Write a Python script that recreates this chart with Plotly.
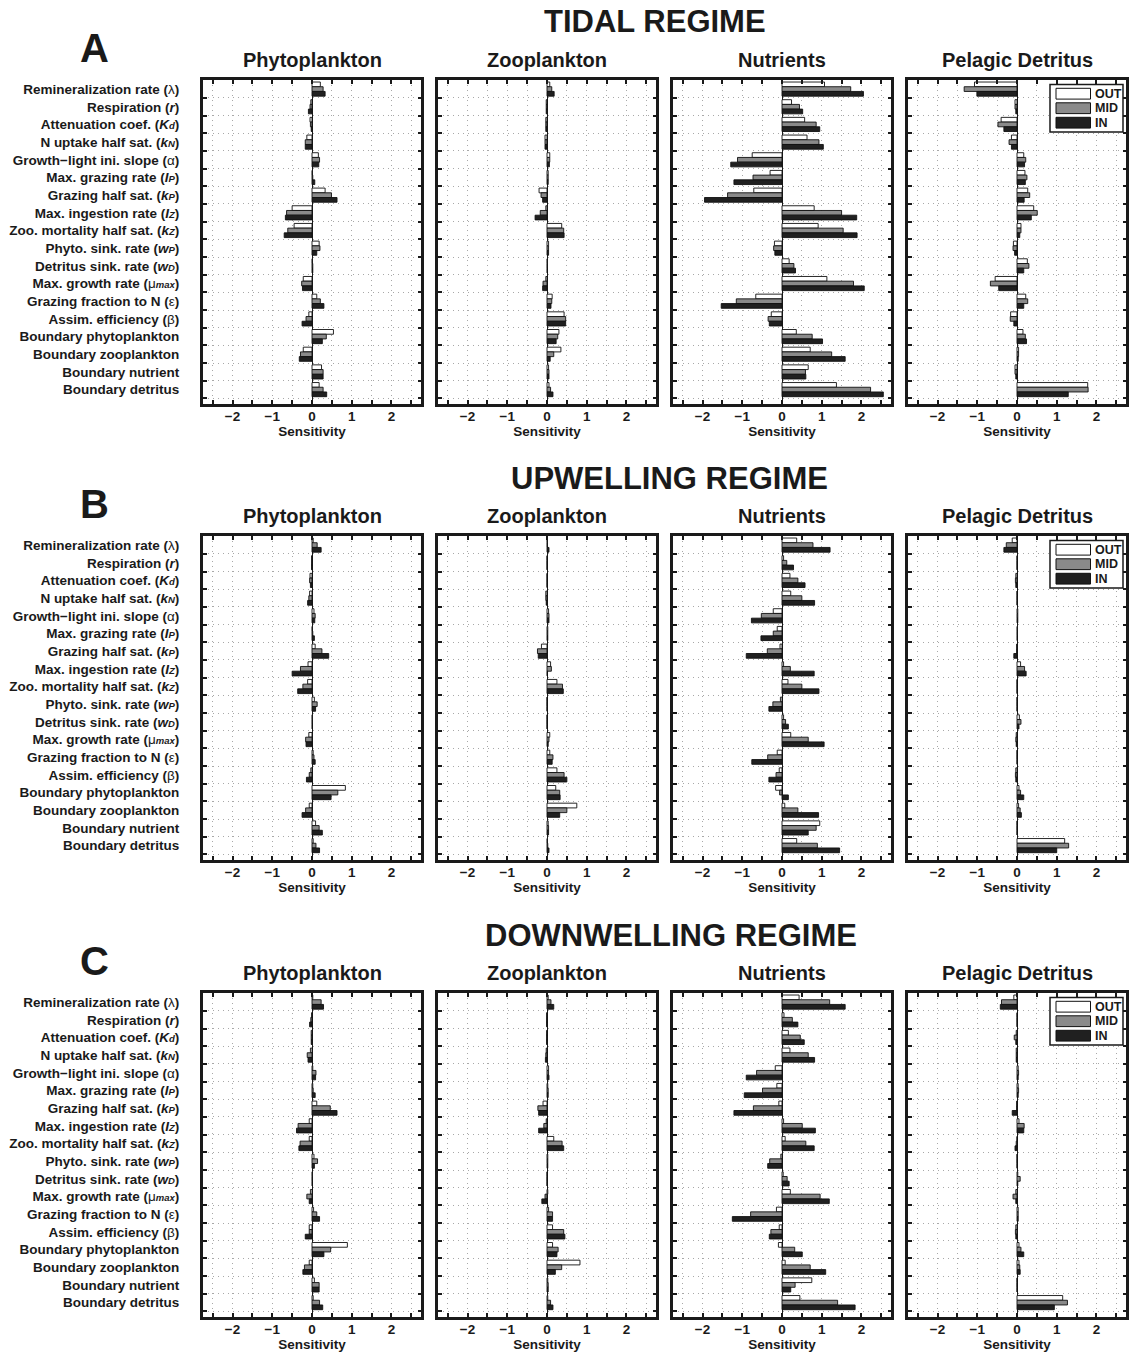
import plotly.graph_objects as go

W, H = 1135, 1353

# ---------------- data ----------------
SUB = "<span style='font-size:9.5px'>{}</span>"
GREEK = "<span style='font-weight:normal'>{}</span>"
PARAMS = [
    "Remineralization rate (" + GREEK.format("λ") + ")",
    "Respiration (<i>r</i>)",
    "Attenuation coef. (<i>K" + SUB.format("d") + "</i>)",
    "N uptake half sat. (<i>k" + SUB.format("N") + "</i>)",
    "Growth−light ini. slope (" + GREEK.format("α") + ")",
    "Max. grazing rate (<i>I" + SUB.format("P") + "</i>)",
    "Grazing half sat. (<i>k" + SUB.format("P") + "</i>)",
    "Max. ingestion rate (<i>I" + SUB.format("Z") + "</i>)",
    "Zoo. mortality half sat. (<i>k" + SUB.format("Z") + "</i>)",
    "Phyto. sink. rate (<i>w" + SUB.format("P") + "</i>)",
    "Detritus sink. rate (<i>w" + SUB.format("D") + "</i>)",
    "Max. growth rate (" + GREEK.format("μ") + "<i>" + SUB.format("max") + "</i>)",
    "Grazing fraction to N (" + GREEK.format("ε") + ")",
    "Assim. efficiency (" + GREEK.format("β") + ")",
    "Boundary phytoplankton",
    "Boundary zooplankton",
    "Boundary nutrient",
    "Boundary detritus",
]
SERIES = ["OUT", "MID", "IN"]
COMPARTMENTS = ["Phytoplankton", "Zooplankton", "Nutrients", "Pelagic Detritus"]
REGIMES = ["TIDAL REGIME", "UPWELLING REGIME", "DOWNWELLING REGIME"]
LETTERS = ["A", "B", "C"]
X_TICKS = [-2, -1, 0, 1, 2]

# Tidal
TIDAL_PHYTO_OUT = [0.21, -0.03, -0.05, -0.13, 0.16, 0.01, 0.33, -0.50, -0.45, 0.18, 0.01, -0.22, 0.12, -0.08, 0.54, -0.22, 0.24, 0.18]
TIDAL_PHYTO_MID = [0.28, -0.05, -0.04, -0.17, 0.19, 0.02, 0.49, -0.64, -0.61, 0.20, 0.02, -0.26, 0.21, -0.15, 0.36, -0.29, 0.28, 0.28]
TIDAL_PHYTO_IN = [0.33, -0.09, -0.02, -0.17, 0.17, 0.07, 0.63, -0.67, -0.70, 0.12, 0.02, -0.24, 0.30, -0.25, 0.26, -0.32, 0.28, 0.37]

TIDAL_ZOO_OUT = [0.07, -0.02, -0.03, -0.05, 0.07, 0.03, -0.20, -0.03, 0.37, 0.04, 0.01, -0.03, 0.13, 0.43, 0.30, 0.35, 0.04, 0.05]
TIDAL_ZOO_MID = [0.12, -0.02, -0.03, -0.05, 0.07, 0.03, -0.15, -0.17, 0.42, 0.04, 0.01, -0.10, 0.12, 0.47, 0.27, 0.17, 0.05, 0.09]
TIDAL_ZOO_IN = [0.18, -0.02, -0.03, -0.05, 0.06, 0.03, -0.11, -0.30, 0.43, 0.04, 0.01, -0.11, 0.10, 0.47, 0.23, 0.08, 0.05, 0.15]

TIDAL_NUTR_OUT = [1.07, 0.24, 0.57, 0.63, -0.75, -0.30, -0.71, 0.81, 0.91, -0.19, 0.18, 1.13, -0.66, -0.27, 0.36, 0.71, 0.66, 1.37]
TIDAL_NUTR_MID = [1.73, 0.44, 0.86, 0.93, -1.12, -0.73, -1.37, 1.50, 1.54, -0.21, 0.30, 1.80, -1.15, -0.35, 0.76, 1.25, 0.59, 2.23]
TIDAL_NUTR_IN = [2.05, 0.52, 0.95, 1.04, -1.29, -1.21, -1.95, 1.88, 1.89, -0.18, 0.34, 2.07, -1.53, -0.32, 1.02, 1.59, 0.60, 2.55]

TIDAL_DET_OUT = [-1.07, -0.05, -0.40, -0.14, 0.17, 0.20, 0.27, 0.42, 0.10, -0.09, 0.26, -0.55, 0.22, -0.16, 0.15, 0.04, -0.05, 1.78]
TIDAL_DET_MID = [-1.33, -0.05, -0.48, -0.20, 0.22, 0.25, 0.32, 0.51, 0.10, -0.10, 0.30, -0.67, 0.27, -0.17, 0.21, 0.04, -0.05, 1.79]
TIDAL_DET_IN = [-1.01, -0.03, -0.33, -0.14, 0.19, 0.21, 0.18, 0.36, 0.07, -0.06, 0.17, -0.46, 0.17, -0.08, 0.24, 0.03, -0.03, 1.29]

# Upwelling
UP_PHYTO_OUT = [0.03, -0.01, -0.05, -0.06, 0.05, 0.01, 0.08, -0.10, -0.11, 0.06, 0.01, -0.08, 0.03, -0.03, 0.84, -0.07, 0.09, 0.03]
UP_PHYTO_MID = [0.13, -0.01, -0.06, -0.08, 0.08, 0.02, 0.25, -0.29, -0.23, 0.13, 0.01, -0.16, 0.05, -0.07, 0.65, -0.16, 0.18, 0.10]
UP_PHYTO_IN = [0.23, -0.01, -0.04, -0.11, 0.07, 0.06, 0.42, -0.50, -0.36, 0.09, 0.01, -0.15, 0.08, -0.14, 0.48, -0.25, 0.26, 0.19]

UP_ZOO_OUT = [0.01, 0.00, 0.00, -0.03, 0.04, 0.02, -0.14, 0.09, 0.25, 0.00, 0.00, 0.07, 0.07, 0.25, 0.22, 0.75, 0.03, 0.01]
UP_ZOO_MID = [0.01, 0.00, 0.00, -0.03, 0.05, 0.02, -0.24, 0.11, 0.39, 0.00, 0.00, 0.05, 0.15, 0.43, 0.32, 0.50, 0.04, 0.02]
UP_ZOO_IN = [0.05, 0.00, 0.00, -0.02, 0.05, 0.02, -0.22, 0.01, 0.41, 0.00, 0.00, 0.03, 0.13, 0.50, 0.33, 0.32, 0.04, 0.05]

UP_NUTR_OUT = [0.37, 0.04, 0.20, 0.22, -0.22, -0.12, -0.05, 0.04, 0.15, -0.04, 0.04, 0.22, -0.12, -0.07, -0.16, 0.07, 0.95, 0.37]
UP_NUTR_MID = [0.78, 0.12, 0.40, 0.50, -0.52, -0.22, -0.37, 0.21, 0.50, -0.23, 0.09, 0.66, -0.36, -0.15, -0.06, 0.40, 0.86, 0.89]
UP_NUTR_IN = [1.21, 0.29, 0.58, 0.82, -0.77, -0.53, -0.90, 0.81, 0.93, -0.33, 0.16, 1.06, -0.76, -0.33, 0.16, 0.92, 0.66, 1.45]

UP_DET_OUT = [-0.12, 0.00, -0.03, 0.00, 0.02, 0.01, -0.01, 0.09, 0.00, 0.00, 0.06, -0.02, 0.00, -0.03, 0.05, 0.04, 0.00, 1.20]
UP_DET_MID = [-0.27, 0.00, -0.04, 0.00, 0.02, 0.01, -0.01, 0.19, 0.00, 0.00, 0.10, -0.03, 0.00, -0.04, 0.09, 0.08, 0.00, 1.30]
UP_DET_IN = [-0.33, 0.00, -0.03, 0.00, 0.02, 0.01, -0.08, 0.23, 0.00, 0.00, 0.05, -0.02, 0.00, -0.03, 0.17, 0.11, 0.00, 1.00]

# Downwelling
DOWN_PHYTO_OUT = [0.02, -0.01, -0.02, -0.04, 0.02, 0.02, 0.12, -0.07, -0.07, 0.05, 0.01, -0.04, 0.04, -0.07, 0.89, -0.07, 0.06, 0.03]
DOWN_PHYTO_MID = [0.23, -0.03, -0.02, -0.12, 0.10, 0.03, 0.46, -0.35, -0.30, 0.14, 0.01, -0.13, 0.12, -0.07, 0.47, -0.19, 0.18, 0.19]
DOWN_PHYTO_IN = [0.29, -0.06, -0.02, -0.10, 0.09, 0.08, 0.63, -0.39, -0.33, 0.06, 0.01, -0.07, 0.19, -0.17, 0.30, -0.23, 0.18, 0.27]

DOWN_ZOO_OUT = [0.03, -0.01, -0.01, -0.02, 0.04, 0.02, -0.10, -0.02, 0.17, 0.02, 0.00, 0.02, 0.04, 0.14, 0.14, 0.83, 0.02, 0.02]
DOWN_ZOO_MID = [0.10, -0.01, -0.01, -0.03, 0.04, 0.03, -0.23, -0.08, 0.38, 0.02, 0.00, -0.05, 0.14, 0.42, 0.28, 0.37, 0.03, 0.09]
DOWN_ZOO_IN = [0.17, -0.01, -0.01, -0.04, 0.05, 0.03, -0.21, -0.21, 0.42, 0.02, 0.00, -0.13, 0.14, 0.45, 0.25, 0.21, 0.03, 0.15]

DOWN_NUTR_OUT = [0.43, 0.05, 0.16, 0.20, -0.17, -0.13, -0.08, 0.04, 0.08, -0.03, 0.03, 0.21, -0.14, -0.07, -0.09, 0.08, 0.75, 0.45]
DOWN_NUTR_MID = [1.20, 0.26, 0.46, 0.66, -0.64, -0.49, -0.72, 0.51, 0.60, -0.31, 0.13, 0.96, -0.79, -0.28, 0.32, 0.71, 0.33, 1.40]
DOWN_NUTR_IN = [1.59, 0.40, 0.56, 0.82, -0.90, -0.95, -1.21, 0.84, 0.81, -0.36, 0.18, 1.19, -1.25, -0.32, 0.51, 1.10, 0.22, 1.84]

DOWN_DET_OUT = [-0.08, 0.00, -0.02, -0.02, 0.03, 0.03, -0.01, 0.05, 0.00, 0.00, 0.02, -0.03, 0.03, -0.03, 0.05, 0.05, 0.00, 1.15]
DOWN_DET_MID = [-0.39, 0.00, -0.07, -0.02, 0.04, 0.04, -0.01, 0.18, -0.02, 0.00, 0.08, -0.10, 0.03, -0.04, 0.10, 0.07, 0.00, 1.27]
DOWN_DET_IN = [-0.42, 0.00, -0.03, -0.02, 0.03, 0.03, -0.12, 0.17, -0.05, 0.00, 0.02, -0.03, 0.03, -0.03, 0.17, 0.08, 0.00, 0.94]

PANELS = [
    [(TIDAL_PHYTO_OUT, TIDAL_PHYTO_MID, TIDAL_PHYTO_IN),
     (TIDAL_ZOO_OUT, TIDAL_ZOO_MID, TIDAL_ZOO_IN),
     (TIDAL_NUTR_OUT, TIDAL_NUTR_MID, TIDAL_NUTR_IN),
     (TIDAL_DET_OUT, TIDAL_DET_MID, TIDAL_DET_IN)],
    [(UP_PHYTO_OUT, UP_PHYTO_MID, UP_PHYTO_IN),
     (UP_ZOO_OUT, UP_ZOO_MID, UP_ZOO_IN),
     (UP_NUTR_OUT, UP_NUTR_MID, UP_NUTR_IN),
     (UP_DET_OUT, UP_DET_MID, UP_DET_IN)],
    [(DOWN_PHYTO_OUT, DOWN_PHYTO_MID, DOWN_PHYTO_IN),
     (DOWN_ZOO_OUT, DOWN_ZOO_MID, DOWN_ZOO_IN),
     (DOWN_NUTR_OUT, DOWN_NUTR_MID, DOWN_NUTR_IN),
     (DOWN_DET_OUT, DOWN_DET_MID, DOWN_DET_IN)],
]

# ---------------- style ----------------
FONT = "Liberation Sans, Arial, Helvetica, sans-serif"
INK = "#1a1a1a"
FILL = {"OUT": "#ffffff", "MID": "#8a8a8a", "IN": "#202020"}
GRID = "#a8a8a8"
GRID_DASH = "1px,4px"
LW = 2.5

COL_PX = [(201.5, 422.5), (436.5, 657.5), (671.5, 892.5), (906.5, 1127.5)]
ROW_PX = [(79, 405), (535, 861), (992, 1318)]
REGIME_CX = [655, 669, 671]


def px(x):
    return x / W


def py(y):
    return 1 - y / H


fig = go.Figure()
layout = {}
annotations = []
shapes = []

n_cat = len(PARAMS)
cats = list(range(n_cat))

for r in range(3):
    top, bot = ROW_PX[r]
    for c in range(4):
        idx = r * 4 + c + 1
        xn = "x" if idx == 1 else f"x{idx}"
        yn = "y" if idx == 1 else f"y{idx}"
        x0, x1 = COL_PX[c]
        for s, vals in zip(SERIES, PANELS[r][c]):
            fig.add_trace(go.Bar(
                y=cats, x=vals, orientation="h", name=s,
                xaxis=xn, yaxis=yn, showlegend=False,
                marker=dict(color=FILL[s], line=dict(color="#111111", width=0.9)),
                hovertemplate=s + ": %{x}<extra></extra>",
            ))
        layout["xaxis" if idx == 1 else f"xaxis{idx}"] = dict(
            domain=[px(x0 + LW / 2), px(x1 - LW / 2)],
            anchor=yn, range=[-2.75, 2.75],
            tickmode="array", tickvals=X_TICKS,
            ticktext=[("−" if v < 0 else "") + str(abs(v)) for v in X_TICKS],
            ticks="inside", ticklen=4, tickwidth=1.6, tickcolor=INK,
            ticklabelstandoff=-2,
            showline=True, linewidth=LW, linecolor=INK, mirror="allticks",
            showgrid=True, gridcolor=GRID, griddash=GRID_DASH, gridwidth=1,
            zeroline=True, zerolinecolor=INK, zerolinewidth=1.3,
            minor=dict(tickmode="linear", tick0=0, dtick=0.5, ticks="inside", ticklen=4,
                       tickwidth=1.6, tickcolor=INK, showgrid=True, gridcolor=GRID,
                       griddash=GRID_DASH, gridwidth=1),
            tickfont=dict(family=FONT, size=13.5, color=INK, weight="bold"),
            title=dict(text="Sensitivity", font=dict(family=FONT, size=13.5, color=INK, weight="bold"),
                       standoff=0),
            fixedrange=True,
        )
        ycfg = dict(
            domain=[py(bot - LW / 2), py(top + LW / 2)],
            anchor=xn, range=[17.8, -0.5],
            tickmode="array", tickvals=cats, ticktext=PARAMS,
            showticklabels=(c == 0), ticks="", showgrid=False,
            ticklabelstandoff=18,
            tickfont=dict(family=FONT, size=13.5, color=INK, weight="bold"),
            showline=True, linewidth=LW, linecolor=INK, mirror="allticks",
            minor=dict(tickmode="array", tickvals=[i + 0.5 for i in cats],
                       ticks="inside", ticklen=4, tickwidth=1.6, tickcolor=INK,
                       showgrid=True, gridcolor=GRID, griddash=GRID_DASH, gridwidth=1),
            zeroline=False, fixedrange=True,
        )
        layout["yaxis" if idx == 1 else f"yaxis{idx}"] = ycfg
        # panel title
        annotations.append(dict(
            text=COMPARTMENTS[c], xref="paper", yref="paper",
            x=px((x0 + x1) / 2), y=py(top - 19), xanchor="center", yanchor="middle",
            showarrow=False, font=dict(family=FONT, size=20, color=INK, weight="bold")))
    # regime title and letter
    annotations.append(dict(
        text=REGIMES[r], xref="paper", yref="paper",
        x=px(REGIME_CX[r]), y=py(top - 57), xanchor="center", yanchor="middle",
        showarrow=False, font=dict(family=FONT, size=31, color=INK, weight="bold")))
    annotations.append(dict(
        text=LETTERS[r], xref="paper", yref="paper",
        x=px(94), y=py(top - 31), xanchor="center", yanchor="middle",
        showarrow=False, font=dict(family=FONT, size=40, color=INK, weight="bold")))
    # legend box drawn inside the detritus panel
    shapes.append(dict(type="rect", xref="paper", yref="paper",
                       x0=px(1050), x1=px(1123), y0=py(top + 5.5), y1=py(top + 53),
                       line=dict(color=INK, width=1.5), fillcolor="white", layer="above"))
    for k, s in enumerate(SERIES):
        yt = top + 9.3 + 14.5 * k
        shapes.append(dict(type="rect", xref="paper", yref="paper",
                           x0=px(1056), x1=px(1090.5), y0=py(yt), y1=py(yt + 10.8),
                           line=dict(color="#111111", width=1), fillcolor=FILL[s], layer="above"))
        annotations.append(dict(
            text=s, xref="paper", yref="paper",
            x=px(1093), y=py(yt + 5.5), xanchor="left", yanchor="middle",
            showarrow=False, font=dict(family=FONT, size=12.5, color=INK, weight="bold")))

fig.update_layout(
    width=W, height=H, margin=dict(l=0, r=0, t=0, b=0),
    paper_bgcolor="white", plot_bgcolor="white",
    barmode="group", bargap=0.2, bargroupgap=0,
    annotations=annotations, shapes=shapes,
    font=dict(family=FONT, color=INK),
    **layout,
)

fig.write_html("out.html")
